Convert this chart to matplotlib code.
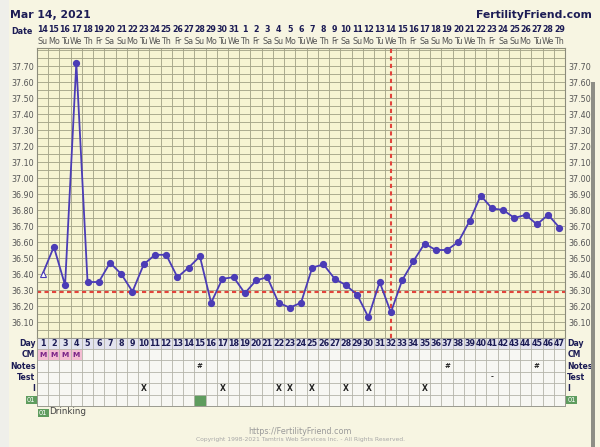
import matplotlib
matplotlib.use("Agg")
import matplotlib.pyplot as plt
from matplotlib.patches import Rectangle
import matplotlib.transforms as mtransforms

# ---------------- data ----------------
days = list(range(1, 48))
temps = [36.40, 36.57, 36.33, 37.72, 36.35, 36.35, 36.47, 36.40, 36.29, 36.46,
         36.52, 36.52, 36.38, 36.44, 36.51, 36.22, 36.37, 36.38, 36.28, 36.36,
         36.38, 36.22, 36.19, 36.22, 36.44, 36.46, 36.37, 36.33, 36.27, 36.13,
         36.35, 36.16, 36.36, 36.48, 36.59, 36.55, 36.55, 36.60, 36.73, 36.89,
         36.81, 36.80, 36.75, 36.77, 36.71, 36.77, 36.69]
coverline = 36.29
ovulation_day = 32
date_labels = ["14", "15", "16", "17", "18", "19", "20", "21", "22", "23", "24",
               "25", "26", "27", "28", "29", "30", "31", "1", "2", "3", "4", "5",
               "6", "7", "8", "9", "10", "11", "12", "13", "14", "15", "16", "17",
               "18", "19", "20", "21", "22", "23", "24", "25", "26", "27", "28", "29"]
weekday_labels = ["Su", "Mo", "Tu", "We", "Th", "Fr", "Sa"] * 6 + ["Su", "Mo", "Tu", "We", "Th"]
ytick_values = [36.10, 36.20, 36.30, 36.40, 36.50, 36.60, 36.70, 36.80, 36.90,
                37.00, 37.10, 37.20, 37.30, 37.40, 37.50, 37.60, 37.70]
row_labels = ["Day", "CM", "Notes", "Test", "I", "01"]
cm_days = [1, 2, 3, 4]
cm_value = "M"
notes_days = [15, 37, 45]
test_days = [41]
i_days = [10, 17, 22, 23, 25, 28, 30, 35]
custom_days = [15]
custom_legend = "Drinking"

# ---------------- styling ----------------
W, H = 600, 447
BG = "#f7f5e2"
PLOT_BG = "#f6f4d2"
GRID = "#a6a68a"
LINE = "#4b3cb6"
RED = "#e2443c"
NAVY = "#1c1c55"

fig = plt.figure(figsize=(6, 4.47), dpi=100)
fig.patch.set_facecolor(BG)
fig.patches.append(Rectangle((0, 0), 9 / W, 1, transform=fig.transFigure,
                             facecolor="#efefea", edgecolor="none", zorder=0))
fig.patches.append(Rectangle((591 / W, 0), 4 / W, 1 - 82 / H, transform=fig.transFigure,
                             facecolor="#8e8e86", edgecolor="none", zorder=0))

# main temperature axes
ax = fig.add_axes([37 / W, 1 - 338 / H, 528 / W, 290 / H])
ax.set_facecolor(PLOT_BG)
ax.set_xlim(0.5, 47.5)
ax.set_ylim(36.0, 36.0 + 290 / 160)
for k in range(48):
    ax.axvline(0.5 + k, color=GRID, lw=0.65, zorder=1)
for k in range(37):
    ax.axhline(36.0 + 0.05 * k, color=GRID, lw=0.65, zorder=1)
ax.set_xticks([])
ax.set_yticks(ytick_values)
ax.set_yticklabels([f"{v:.2f}" for v in ytick_values])
ax.tick_params(axis="y", length=0, labelsize=5.8, labelcolor="#555555",
               labelleft=True, labelright=True, pad=2.2)
for s in ax.spines.values():
    s.set_color("#8c8c7c")
    s.set_linewidth(0.8)

ax.axhline(coverline, color=RED, ls=(0, (2, 1.6)), lw=1.5, zorder=2)
ax.axvline(ovulation_day, color=RED, ls=(0, (2, 1.6)), lw=1.5, zorder=2)

ax.plot(days, temps, color=LINE, lw=1.3, zorder=3)
ax.plot(days[1:], temps[1:], ls="none", marker="o", ms=4.2, color=LINE, zorder=4)
ax.plot(days[:1], temps[:1], ls="none", marker="^", ms=5, mfc="white", mec=LINE,
        mew=0.8, zorder=4)

# header
hdr = mtransforms.blended_transform_factory(ax.transData, fig.transFigure)
for d, lab, wd in zip(days, date_labels, weekday_labels):
    ax.text(d, 1 - 30 / H, lab, transform=hdr, ha="center", va="center",
            fontsize=5.7, fontweight="bold", color=NAVY)
    ax.text(d, 1 - 42 / H, wd, transform=hdr, ha="center", va="center",
            fontsize=5.8, color="#555555")
fig.text(22 / W, 1 - 32 / H, "Date", ha="center", va="center", fontsize=5.8,
         fontweight="bold", color=NAVY)
fig.text(10 / W, 1 - 15 / H, "Mar 14, 2021", ha="left", va="center", fontsize=7.8,
         fontweight="bold", color=NAVY)
fig.text(592 / W, 1 - 15 / H, "FertilityFriend.com", ha="right", va="center",
         fontsize=7.8, fontweight="bold", color=NAVY)

# bottom table
ax2 = fig.add_axes([37 / W, 1 - 406 / H, 528 / W, 68.5 / H])
ax2.set_facecolor("#f7f7f3")
ax2.set_xlim(0.5, 47.5)
ax2.set_ylim(6, 0)
ax2.set_xticks([])
ax2.set_yticks([])
for s in ax2.spines.values():
    s.set_color("#9a9a90")
    s.set_linewidth(0.7)
ax2.add_patch(Rectangle((0.5, 0), 47, 1, facecolor="#e3e3ee", edgecolor="none", zorder=0))
for d in cm_days:
    ax2.add_patch(Rectangle((d - 0.5, 1), 1, 1, facecolor="#f3bdd3", edgecolor="none", zorder=0))
    ax2.text(d, 1.5, cm_value, ha="center", va="center", fontsize=5.3,
             fontweight="bold", color="#7a2488")
for d in custom_days:
    ax2.add_patch(Rectangle((d - 0.5, 5), 1, 1, facecolor="#5e9c5e", edgecolor="none", zorder=0))
for k in range(48):
    ax2.axvline(0.5 + k, color="#b4b4aa", lw=0.6, zorder=1)
for r in range(1, 6):
    ax2.axhline(r, color="#b4b4aa", lw=0.6, zorder=1)
for d in days:
    ax2.text(d, 0.5, str(d), ha="center", va="center", fontsize=5.8,
             fontweight="bold", color=NAVY)
for d in notes_days:
    ax2.text(d, 2.5, "#", ha="center", va="center", fontsize=5, fontweight="bold", color="#222222")
for d in test_days:
    ax2.text(d, 3.5, "-", ha="center", va="center", fontsize=5, fontweight="bold", color="#222222")
for d in i_days:
    ax2.text(d, 4.5, "X", ha="center", va="center", fontsize=5.5, fontweight="bold", color="#222222")
for r, lab in enumerate(row_labels):
    if lab == "01":
        for xx, ha in ((0.5 - 0.15, "right"), (47.5 + 0.2, "left")):
            ax2.text(xx, r + 0.5, lab, ha=ha, va="center", fontsize=4.8, color="white",
                     bbox=dict(boxstyle="square,pad=0.18", facecolor="#5e9c5e",
                               edgecolor="none"))
    else:
        ax2.text(0.5 - 0.15, r + 0.5, lab, ha="right", va="center", fontsize=5.6,
                 fontweight="bold", color=NAVY)
        ax2.text(47.5 + 0.2, r + 0.5, lab, ha="left", va="center", fontsize=5.6,
                 fontweight="bold", color=NAVY)

# legend and footer
fig.text(39 / W, 1 - 413 / H, "01", ha="left", va="center", fontsize=4.8, color="white",
         bbox=dict(boxstyle="square,pad=0.18", facecolor="#5e9c5e", edgecolor="none"))
fig.text(49 / W, 1 - 412 / H, custom_legend, ha="left", va="center", fontsize=6.3,
         color="#444444")
fig.text(300 / W, 1 - 431 / H, "https://FertilityFriend.com", ha="center", va="center",
         fontsize=5.8, color="#9a9a9a")
fig.text(300 / W, 1 - 440 / H,
         "Copyright 1998-2021 Tamtris Web Services Inc. - All Rights Reserved.",
         ha="center", va="center", fontsize=4.3, color="#a8a8a8")

fig.savefig("out.png", dpi=100, facecolor=fig.get_facecolor())
